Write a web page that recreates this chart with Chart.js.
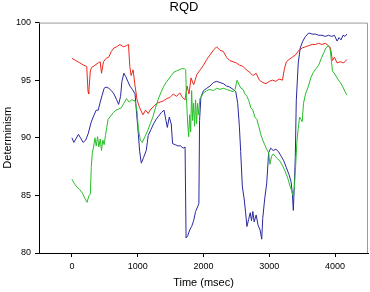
<!DOCTYPE html>
<html>
<head>
<meta charset="utf-8">
<script src="https://cdn.jsdelivr.net/npm/chart.js@4"></script>
<style>
  html, body { margin: 0; padding: 0; background: #fff; }
  #wrap { width: 370px; height: 292px; }
</style>
</head>
<body>
<div id="wrap"><canvas id="chart"></canvas></div>
<script>
const xTicks = [0, 1000, 2000, 3000, 4000];
const yTicks = [80, 85, 90, 95, 100];

const redTime = [0,60,120,180,225,245,255,280,300,350,400,430,450,480,520,560,600,640,680,730,780,830,860,880,900,930,960,990,1030,1080,1120,1160,1200,1240,1290,1340,1390,1440,1490,1540,1590,1640,1680,1720,1750,1780,1810,1850,1900,1950,2000,2050,2100,2150,2200,2250,2300,2350,2400,2450,2500,2550,2600,2650,2700,2750,2800,2850,2900,2950,3000,3050,3100,3150,3200,3230,3260,3300,3350,3400,3450,3500,3550,3600,3650,3700,3750,3800,3850,3900,3930,3960,3990,4030,4080,4130,4180];
const redValues = [96.9,96.7,96.5,96.3,96.2,94.0,93.8,95.8,96.1,96.3,96.5,96.6,95.6,96.6,96.9,97.0,97.5,97.8,97.9,98.1,97.9,98.0,98.1,96.2,95.4,95.9,94.5,93.3,92.6,92.0,92.4,92.1,92.5,92.7,93.0,93.1,93.2,93.4,93.5,93.8,93.6,93.9,93.5,93.3,94.5,93.8,95.2,94.6,95.5,95.9,96.3,96.8,97.2,97.6,97.9,97.6,97.5,97.0,96.7,96.6,96.5,96.3,96.2,95.9,95.7,95.4,95.6,95.0,94.8,94.7,94.9,95.0,94.9,95.1,95.0,96.0,96.6,96.8,97.0,97.2,97.6,97.8,97.9,98.0,98.1,98.1,98.2,98.1,98.2,98.0,97.8,96.7,97.0,96.5,96.6,96.5,96.8];

const blueTime = [0,30,60,100,130,170,210,250,290,330,370,400,430,460,490,520,560,600,640,680,710,740,760,790,820,850,880,920,960,985,1000,1010,1030,1055,1090,1130,1160,1200,1240,1280,1320,1360,1400,1430,1450,1480,1510,1530,1570,1610,1650,1690,1720,1735,1760,1790,1820,1850,1880,1910,1930,1940,1960,2000,2050,2100,2150,2200,2250,2300,2350,2400,2450,2490,2520,2545,2565,2590,2620,2640,2660,2685,2710,2730,2750,2770,2800,2830,2860,2885,2900,2930,2960,2990,3020,3060,3100,3140,3180,3220,3260,3300,3330,3350,3365,3380,3395,3410,3440,3470,3510,3550,3600,3650,3700,3750,3800,3850,3900,3950,3990,4030,4060,4090,4120,4150,4180];
const blueValues = [90.0,89.6,89.9,90.3,90.0,89.6,89.8,90.4,91.3,91.9,92.4,92.4,93.1,93.7,94.3,94.4,94.3,94.1,93.8,93.3,92.9,93.6,94.9,95.6,95.3,94.9,94.5,94.2,93.8,92.0,91.0,90.3,88.8,87.8,88.3,88.9,90.2,90.7,91.2,91.6,91.9,92.2,92.4,91.5,90.9,91.8,91.2,89.5,89.4,89.3,89.3,89.1,89.2,81.3,81.5,82.0,82.3,82.8,83.6,84.0,84.3,91.5,93.5,94.1,94.3,94.5,94.8,94.9,94.8,94.7,94.5,94.4,94.2,94.0,93.0,91.0,88.8,85.8,84.6,83.5,82.3,82.9,83.5,82.8,83.6,82.7,83.3,82.4,82.0,81.2,83.0,84.7,86.0,88.7,89.1,88.9,89.0,88.8,88.4,88.0,87.4,86.8,86.2,85.2,83.7,85.8,88.3,93.2,96.5,97.8,98.4,98.8,99.1,99.0,99.0,98.9,98.9,98.8,98.9,98.8,98.9,98.4,98.7,98.5,98.9,98.8,99.0];

const greenTime = [0,40,80,120,160,200,230,260,280,295,310,330,350,370,390,410,430,450,470,490,510,530,550,590,630,670,710,750,790,830,870,910,960,990,1010,1040,1070,1110,1150,1190,1230,1270,1310,1350,1390,1430,1470,1510,1550,1590,1630,1670,1710,1730,1740,1760,1775,1790,1805,1820,1835,1850,1865,1880,1895,1910,1925,1945,1970,2000,2050,2100,2150,2200,2250,2300,2350,2400,2450,2480,2510,2540,2570,2600,2630,2660,2690,2720,2750,2780,2810,2840,2870,2900,2930,2960,2990,3010,3035,3060,3090,3120,3160,3200,3240,3280,3310,3340,3360,3380,3400,3420,3440,3460,3480,3500,3520,3550,3590,3630,3670,3710,3750,3790,3830,3860,3900,3925,3945,3960,4000,4040,4080,4120,4150,4180];
const greenValues = [86.4,86.0,85.7,85.5,85.2,84.7,84.4,85.0,85.1,87.5,88.7,89.2,90.0,89.3,90.1,89.2,89.9,88.9,89.8,89.4,90.2,90.9,91.6,91.9,92.2,92.4,92.5,92.6,93.0,93.4,93.1,93.3,93.2,92.3,90.8,89.8,89.6,90.1,90.6,91.2,91.8,92.6,93.3,93.9,94.4,94.8,95.1,95.4,95.7,95.8,95.9,96.0,96.0,95.9,93.5,91.2,90.1,92.0,90.5,94.1,91.5,93.0,91.0,93.3,91.2,93.0,92.0,93.4,93.6,93.9,94.1,94.2,94.1,94.3,94.2,94.3,94.2,94.1,94.0,94.2,95.0,94.6,94.3,94.2,93.8,93.6,93.2,92.6,92.4,91.8,91.6,91.0,90.3,89.8,89.4,89.0,88.7,87.7,88.4,88.6,88.4,88.2,88.0,87.6,87.1,86.5,85.9,85.4,85.0,85.6,87.5,89.7,90.8,91.8,91.6,91.4,93.0,93.8,94.4,95.2,95.7,96.0,96.3,96.9,97.4,97.8,98.0,97.7,96.6,95.8,95.5,95.1,94.8,94.4,94.0,93.7];

const toPoints = (times, values) => times.map((t, i) => ({ x: t, y: values[i] }));

const frame = {
  id: 'frame',
  afterDraw(chart) {
    const { ctx, chartArea: a } = chart;
    ctx.save();
    ctx.strokeStyle = '#9a9a9a';
    ctx.lineWidth = 1;
    ctx.beginPath();
    ctx.moveTo(a.left, a.top + 0.5);
    ctx.lineTo(a.right - 0.5, a.top + 0.5);
    ctx.lineTo(a.right - 0.5, a.bottom);
    ctx.stroke();
    ctx.restore();
  }
};

const font = 'Liberation Sans, Arial, sans-serif';

new Chart(document.getElementById('chart'), {
  type: 'scatter',
  data: {
    datasets: [
      { data: toPoints(greenTime, greenValues), borderColor: 'rgb(40,190,40)' },
      { data: toPoints(redTime, redValues), borderColor: 'rgb(235,40,30)' },
      { data: toPoints(blueTime, blueValues), borderColor: 'rgb(40,40,160)' }
    ].map(d => Object.assign(d, { showLine: true, pointRadius: 0, borderWidth: 1, tension: 0 }))
  },
  options: {
    responsive: true,
    maintainAspectRatio: false,
    animation: false,
    layout: { padding: { top: 0, right: 2, bottom: 0, left: 0 } },
    plugins: {
      legend: { display: false },
      tooltip: { enabled: false },
      title: {
        display: true,
        text: 'RQD',
        color: '#000',
        font: { family: font, size: 13, weight: 'normal' },
        padding: { top: 0, bottom: 7 }
      }
    },
    scales: {
      x: {
        type: 'linear',
        min: -500,
        max: 4500,
        afterBuildTicks: s => { s.ticks = xTicks.map(v => ({ value: v })); },
        afterFit: s => { s.height = 39; },
        ticks: { color: '#000', font: { family: font, size: 9 }, padding: 4, callback: v => String(v) },
        grid: { drawOnChartArea: false, tickLength: 4, color: '#000' },
        border: { color: '#000' },
        title: {
          display: true,
          text: 'Time (msec)',
          color: '#000',
          font: { family: font, size: 11 },
          padding: { top: 0, bottom: 2 }
        }
      },
      y: {
        min: 80,
        max: 100,
        afterBuildTicks: s => { s.ticks = yTicks.map(v => ({ value: v })); },
        afterFit: s => { s.width = 39; },
        ticks: { color: '#000', font: { family: font, size: 9 }, padding: 4, callback: v => String(v) },
        grid: { drawOnChartArea: false, tickLength: 4, color: '#000' },
        border: { color: '#000' },
        title: {
          display: true,
          text: 'Determinism',
          color: '#000',
          font: { family: font, size: 11 },
          padding: { top: 1, bottom: 0 }
        }
      }
    }
  },
  plugins: [frame]
});
</script>
</body>
</html>
